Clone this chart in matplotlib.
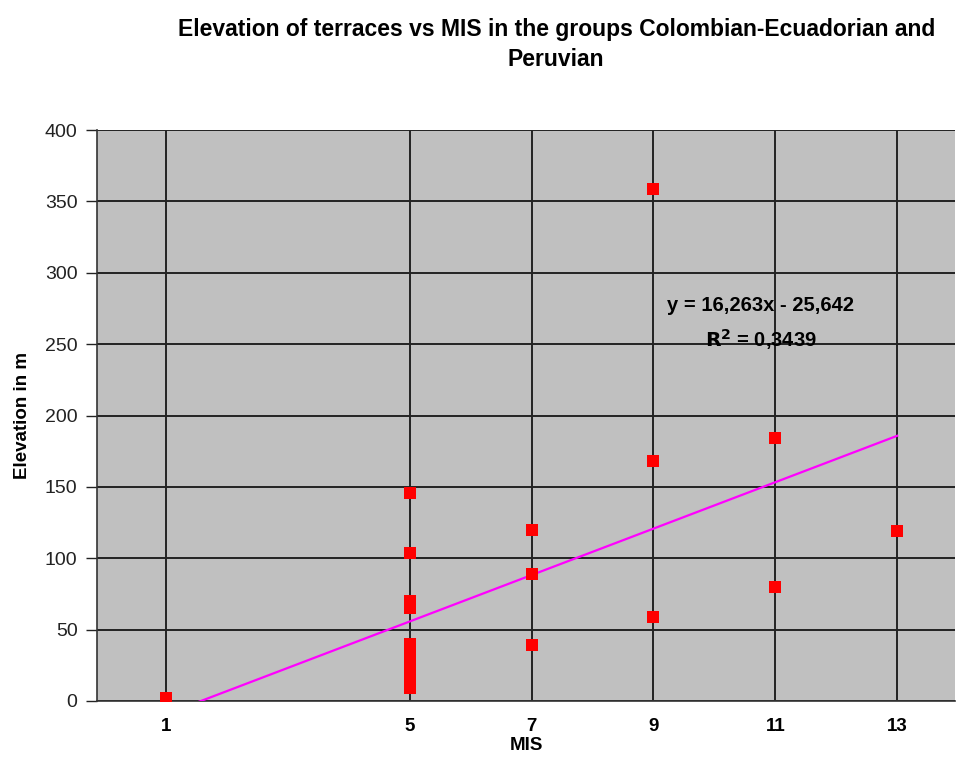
import numpy as np
import matplotlib.pyplot as plt
plt.switch_backend('agg')

# data
mis = [1, 5, 5, 5, 5, 5, 5, 5, 5, 5, 5, 5, 7, 7, 7, 9, 9, 9, 11, 11, 13]
elevation = [2, 146, 104, 70, 65, 40, 35, 30, 25, 20, 17, 9, 120, 89, 39, 359, 168, 59, 184, 80, 119]
x_ticks = [1, 5, 7, 9, 11, 13]
y_ticks = [0, 50, 100, 150, 200, 250, 300, 350, 400]
slope = 16.263
intercept = -25.642
r2 = 0.3439

plt.rcParams['font.family'] = ['Liberation Sans', 'DejaVu Sans']

fig = plt.figure(figsize=(9.69, 7.64), dpi=100)
ax = fig.add_axes([0.1001, 0.0825, 0.8855, 0.7473])
ax.set_facecolor('#c0c0c0')

ax.set_xlim(-0.13, 13.95)
ax.set_ylim(0, 400)
ax.set_xticks(x_ticks)
ax.set_yticks(y_ticks)
ax.grid(True, color='#222222', linewidth=1.4)
ax.set_axisbelow(True)

# trendline (excel style linear fit)
tx = np.array([min(mis), max(mis)])
ax.plot(tx, slope * tx + intercept, color='#ff00ff', linewidth=1.6, zorder=3)

ax.scatter(mis, elevation, marker='s', s=66, color='#ff0000', zorder=4, linewidths=0)

for s in ['top', 'right']:
    ax.spines[s].set_visible(False)
for s in ['left', 'bottom']:
    ax.spines[s].set_color('#333333')
    ax.spines[s].set_linewidth(1.2)

ax.tick_params(axis='y', length=8, width=1, labelsize=14, colors='#222222', pad=6)
ax.tick_params(axis='x', length=0, labelsize=13.5, pad=12)
for lbl in ax.get_xticklabels():
    lbl.set_fontweight('bold')

ax.set_xlabel('MIS', fontsize=13.5, fontweight='bold', labelpad=2)
ax.set_ylabel('Elevation in m', fontsize=13.5, fontweight='bold', labelpad=10)

eq = f'y = {slope:.3f}x - {abs(intercept):.3f}'.replace('.', ',')
ax.text(10.76, 277, eq, fontsize=14.5, fontweight='bold', ha='center', va='center')
ax.text(10.76, 253, '$\\mathbf{R^2}$ = ' + f'{r2:.4f}'.replace('.', ','),
        fontsize=14.5, fontweight='bold', ha='center', va='center')

fig.text(0.574, 0.977, 'Elevation of terraces vs MIS in the groups Colombian-Ecuadorian and\nPeruvian',
         ha='center', va='top', fontsize=16.5, fontweight='bold', linespacing=1.4)

plt.savefig('out.png', dpi=100)
